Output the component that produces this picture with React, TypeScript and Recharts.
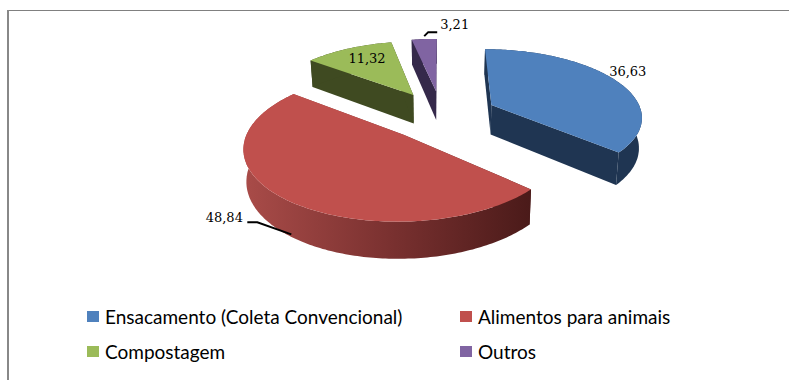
import React from "react";
import { PieChart, Pie, Legend } from "recharts";

const categories = [
  "Ensacamento (Coleta Convencional)",
  "Alimentos para animais",
  "Compostagem",
  "Outros",
];
const shares = [36.63, 48.84, 11.32, 3.21];
const topColors = ["#4f81bd", "#c0504d", "#9bbb59", "#8064a2"];
const wallColors = ["#1f3552", "url(#redWall)", "#3f4a21", "#35294a"];

const tableRows = categories.map((name, i) => ({
  name,
  value: shares[i],
  fill: topColors[i],
  wall: wallColors[i],
}));

// Projection of the tilted, exploded pie (radius 1 in pie space).
const SQUASH = 0.444;
const PERSPECTIVE = 0.15;
const EXPLODE = 0.37;
const DEPTH = 30;
const FLOOR_SHRINK = 0.985;

type Pt = { x: number; y: number; s: number };

function projector(cx: number, cy: number, r: number, midDeg: number) {
  const mid = (midDeg * Math.PI) / 180;
  const ex = EXPLODE * Math.sin(mid);
  const ey = -EXPLODE * Math.cos(mid);
  return (deg: number, radius: number): Pt => {
    const t = (deg * Math.PI) / 180;
    const X = ex + radius * Math.sin(t);
    const Y = ey - radius * Math.cos(t);
    const s = 1 / (1 - PERSPECTIVE * Y);
    return { x: cx + r * X * s, y: cy + r * SQUASH * Y * s, s };
  };
}

const toPath = (pts: { x: number; y: number }[]) =>
  pts.map((p, i) => `${i ? "L" : "M"}${p.x.toFixed(1)} ${p.y.toFixed(1)}`).join("") + "Z";

function Slice3D(props: any) {
  const { cx, cy, outerRadius, startAngle, endAngle, fill, wall } = props;
  const from = 90 - startAngle;
  const to = 90 - endAngle;
  const project = projector(cx, cy, outerRadius, (from + to) / 2);
  const floor = (p: Pt) => ({
    x: cx + (p.x - cx) * FLOOR_SHRINK,
    y: p.y + DEPTH * p.s,
  });
  const arc: Pt[] = [];
  const steps = Math.max(2, Math.ceil(to - from));
  for (let i = 0; i <= steps; i++) arc.push(project(from + ((to - from) * i) / steps, 1));
  const apex = project(0, 0);
  const first = arc[0];
  const last = arc[arc.length - 1];
  return (
    <g>
      <path d={toPath([apex, first, floor(first), floor(apex)])} fill={wall} />
      <path d={toPath([apex, last, floor(last), floor(apex)])} fill={wall} />
      <path d={toPath([...arc, ...arc.map(floor).reverse()])} fill={wall} />
      <path d={toPath([apex, ...arc])} fill={fill} />
    </g>
  );
}

// Placement of each value label and its optional leader, relative to the
// point on the rim at the middle of the slice.
const labelPlacement = [
  { dx: 12, dy: -8, leader: null },
  { dx: -60, dy: 19.5, leader: [[-37, 23.5], [-27, 23.5], [7, 35.5]] },
  { dx: 18.7, dy: 10.5, leader: null },
  { dx: 30.5, dy: -14, leader: [[0, -3], [4, -7], [13, -7]] },
];

function ValueLabel(props: any) {
  const { cx, cy, outerRadius, midAngle, index, value } = props;
  const mid = 90 - midAngle;
  const rim = projector(cx, cy, outerRadius, mid)(mid, 1);
  const place = labelPlacement[index];
  return (
    <g>
      {place.leader && (
        <polyline
          points={place.leader.map(([a, b]) => `${rim.x + a},${rim.y + b}`).join(" ")}
          fill="none"
          stroke="#000"
          strokeWidth={2}
        />
      )}
      <text
        x={rim.x + place.dx}
        y={rim.y + place.dy}
        textAnchor="middle"
        dominantBaseline="middle"
        fontFamily="'DejaVu Serif'"
        fontSize={13}
        fill="#000"
      >
        {value.toFixed(2).replace(".", ",")}
      </text>
    </g>
  );
}

function LegendGrid() {
  return (
    <div
      style={{
        display: "grid",
        gridTemplateColumns: "373px 300px",
        gridAutoRows: "35px",
        fontFamily: "Lato",
        fontSize: 19,
        color: "#000",
      }}
    >
      {tableRows.map((row) => (
        <div key={row.name} style={{ display: "flex", alignItems: "center", height: 22 }}>
          <span style={{ width: 12, height: 11, background: row.fill, marginRight: 6 }} />
          <span style={{ whiteSpace: "nowrap" }}>{row.name}</span>
        </div>
      ))}
    </div>
  );
}

export default function App() {
  return (
    <div style={{ position: "absolute", left: 0, top: 0, width: 789, height: 380, background: "#fff", overflow: "hidden" }}>
      <div style={{ position: "absolute", left: 7, top: 10, width: 782, height: 1, background: "#808080" }} />
      <div style={{ position: "absolute", left: 7, top: 10, width: 2, height: 370, background: "#888" }} />
      <PieChart width={789} height={380} margin={{ top: 0, right: 0, bottom: 0, left: 0 }}>
        <defs>
          <linearGradient id="redWall" gradientUnits="userSpaceOnUse" x1="247" y1="0" x2="532" y2="0">
            <stop offset="0" stopColor="#a84b48" />
            <stop offset="0.5" stopColor="#7a3130" />
            <stop offset="1" stopColor="#4a1a19" />
          </linearGradient>
        </defs>
        <Pie
          data={tableRows}
          dataKey="value"
          nameKey="name"
          cx={441.5}
          cy={115}
          outerRadius={151}
          startAngle={90}
          endAngle={-270}
          paddingAngle={0}
          stroke="none"
          shape={Slice3D}
          label={ValueLabel}
          labelLine={false}
          isAnimationActive={false}
        />
        <Legend
          content={LegendGrid}
          wrapperStyle={{ position: "absolute", left: 87, top: 305, width: 680, bottom: "auto" }}
        />
      </PieChart>
    </div>
  );
}
